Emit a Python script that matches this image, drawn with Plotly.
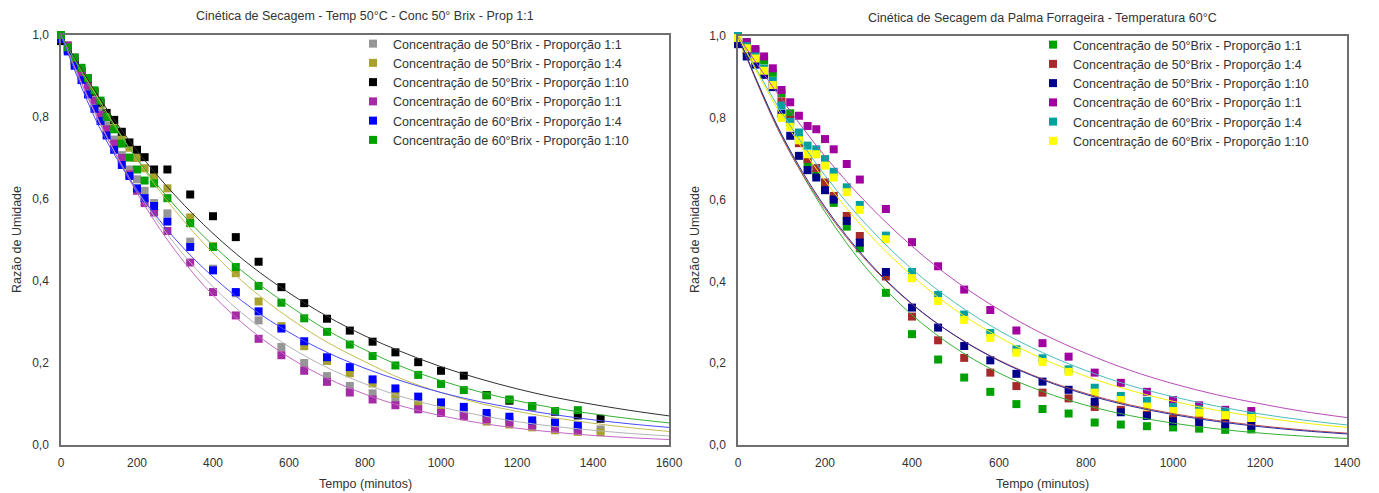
import plotly.graph_objects as go

# ---------------- data: left chart ----------------
TL = [0, 18, 36, 54, 71, 88, 104, 120, 140, 160, 180, 200, 220, 245, 280, 340, 400, 460, 520, 580,
      640, 700, 760, 820, 880, 940, 1000, 1060, 1120, 1180, 1240, 1300, 1360, 1420]
L_gray = [1.0, 0.965, 0.93, 0.9, 0.87, 0.84, 0.81, 0.78, 0.745, 0.707, 0.672, 0.648, 0.62, 0.59, 0.565,
          0.496, 0.43, 0.37, 0.304, 0.239, 0.2, 0.168, 0.144, 0.126, 0.11, 0.095, 0.09, 0.079, 0.068,
          0.06, 0.052, 0.046, 0.041, 0.038]
L_olive = [0.99, 0.965, 0.94, 0.915, 0.89, 0.86, 0.83, 0.8, 0.78, 0.752, 0.725, 0.7, 0.675, 0.655, 0.626,
           0.555, 0.485, 0.419, 0.35, 0.29, 0.241, 0.205, 0.175, 0.15, 0.125, 0.105, 0.085, 0.07, 0.057,
           0.05, 0.043, 0.036, 0.032, 0.031]
L_black = [0.985, 0.962, 0.937, 0.91, 0.886, 0.862, 0.835, 0.81, 0.793, 0.764, 0.738, 0.72, 0.702, 0.672,
           0.672, 0.611, 0.558, 0.507, 0.447, 0.385, 0.346, 0.308, 0.279, 0.252, 0.226, 0.202, 0.181,
           0.169, 0.122, 0.108, 0.094, 0.081, 0.072, 0.064]
L_purple = [1.0, 0.975, 0.945, 0.91, 0.875, 0.84, 0.805, 0.77, 0.735, 0.7, 0.66, 0.62, 0.59, 0.567, 0.522,
            0.445, 0.373, 0.316, 0.259, 0.219, 0.181, 0.154, 0.128, 0.111, 0.097, 0.087, 0.078, 0.071,
            0.063, 0.055, 0.048, 0.042, 0.036]
L_blue = [0.99, 0.96, 0.925, 0.89, 0.855, 0.82, 0.79, 0.755, 0.72, 0.683, 0.656, 0.626, 0.602, 0.583,
          0.545, 0.483, 0.426, 0.373, 0.326, 0.284, 0.253, 0.214, 0.19, 0.16, 0.138, 0.118, 0.104, 0.093,
          0.078, 0.069, 0.06, 0.055, 0.048]
L_green = [1.0, 0.97, 0.945, 0.92, 0.895, 0.865, 0.84, 0.8, 0.77, 0.735, 0.701, 0.672, 0.645, 0.638,
           0.602, 0.541, 0.483, 0.434, 0.388, 0.347, 0.309, 0.276, 0.245, 0.217, 0.194, 0.171, 0.149,
           0.134, 0.121, 0.111, 0.095, 0.083, 0.085]

TFL = [0, 100, 200, 300, 400, 500, 600, 700, 800, 900, 1000, 1100, 1200, 1300, 1400, 1500, 1600]
FL_gray = [1.0, 0.788, 0.621, 0.49, 0.386, 0.304, 0.24, 0.189, 0.149, 0.117, 0.0925, 0.073, 0.057, 0.045, 0.036, 0.028, 0.022]
FL_olive = [1.0, 0.842, 0.696, 0.572, 0.468, 0.381, 0.31, 0.251, 0.203, 0.16, 0.128, 0.102, 0.082, 0.066, 0.053, 0.042, 0.033]
FL_black = [1.0, 0.848, 0.718, 0.609, 0.516, 0.437, 0.371, 0.314, 0.266, 0.226, 0.191, 0.162, 0.137, 0.116, 0.099, 0.084, 0.071]
FL_purple = [1.0, 0.791, 0.615, 0.475, 0.365, 0.28, 0.214, 0.163, 0.124, 0.094, 0.0715, 0.054, 0.041, 0.031, 0.0234, 0.0177, 0.0133]
FL_blue = [1.0, 0.777, 0.622, 0.503, 0.41, 0.335, 0.275, 0.226, 0.187, 0.155, 0.128, 0.106, 0.0886, 0.0737, 0.0615, 0.0513, 0.0429]
FL_green = [1.0, 0.835, 0.698, 0.583, 0.487, 0.407, 0.34, 0.28, 0.232, 0.19, 0.157, 0.13, 0.108, 0.09, 0.076, 0.064, 0.054]

# ---------------- data: right chart ----------------
TR = [0, 20, 40, 60, 80, 100, 120, 140, 160, 180, 200, 220, 250, 280, 340, 400, 460, 520, 580, 640,
      700, 760, 820, 880, 940, 1000, 1060, 1120, 1180]
R_green = [1.0, 0.985, 0.965, 0.94, 0.91, 0.86, 0.811, 0.75, 0.689, 0.662, 0.628, 0.592, 0.534, 0.481,
           0.372, 0.271, 0.209, 0.165, 0.13, 0.1, 0.088, 0.077, 0.055, 0.05, 0.046, 0.043, 0.04, 0.037, 0.038]
R_red = [0.99, 0.965, 0.94, 0.91, 0.88, 0.84, 0.795, 0.738, 0.699, 0.677, 0.642, 0.609, 0.56, 0.511,
         0.412, 0.314, 0.256, 0.213, 0.177, 0.144, 0.128, 0.114, 0.093, 0.086, 0.074, 0.07, 0.069, 0.067, 0.064]
R_navy = [0.98, 0.95, 0.93, 0.905, 0.875, 0.81, 0.756, 0.707, 0.672, 0.654, 0.623, 0.6, 0.548, 0.495,
          0.423, 0.336, 0.287, 0.242, 0.207, 0.174, 0.155, 0.135, 0.106, 0.08, 0.071, 0.058, 0.055, 0.051, 0.047]
R_purple = [1.0, 0.985, 0.968, 0.95, 0.921, 0.868, 0.838, 0.805, 0.78, 0.772, 0.748, 0.723, 0.687, 0.649,
            0.577, 0.496, 0.437, 0.38, 0.33, 0.28, 0.249, 0.216, 0.177, 0.152, 0.13, 0.11, 0.097, 0.086, 0.083]
R_teal = [1.0, 0.975, 0.95, 0.92, 0.89, 0.83, 0.79, 0.764, 0.732, 0.723, 0.699, 0.668, 0.63, 0.587,
          0.512, 0.423, 0.367, 0.319, 0.274, 0.234, 0.212, 0.185, 0.14, 0.12, 0.108, 0.093, 0.087, 0.08, 0.072]
R_yellow = [0.995, 0.97, 0.945, 0.915, 0.88, 0.8, 0.778, 0.745, 0.711, 0.711, 0.683, 0.654, 0.618, 0.575,
            0.503, 0.408, 0.352, 0.306, 0.262, 0.226, 0.203, 0.179, 0.128, 0.11, 0.094, 0.083, 0.079, 0.073, 0.066]

TFR = [0, 100, 200, 300, 400, 500, 600, 700, 800, 900, 1000, 1100, 1200, 1300, 1400]
FR_green = [1.0, 0.758, 0.57, 0.426, 0.318, 0.237, 0.176, 0.131, 0.0972, 0.0721, 0.0534, 0.0395, 0.0292, 0.0216, 0.016]
FR_red = [1.0, 0.754, 0.5775, 0.445, 0.344, 0.267, 0.2074, 0.1615, 0.126, 0.0983, 0.0768, 0.0601, 0.0471, 0.0369, 0.029]
FR_navy = [1.0, 0.76, 0.582, 0.448, 0.345, 0.2666, 0.206, 0.1595, 0.1235, 0.0957, 0.0743, 0.0576, 0.0448, 0.0348, 0.027]
FR_purple = [1.0, 0.846, 0.706, 0.587, 0.486, 0.401, 0.331, 0.272, 0.224, 0.183, 0.15, 0.123, 0.101, 0.082, 0.067]
FR_teal = [1.0, 0.814, 0.659, 0.533, 0.43, 0.347, 0.28, 0.226, 0.182, 0.146, 0.118, 0.095, 0.076, 0.061, 0.049]
FR_yellow = [1.0, 0.805, 0.646, 0.517, 0.414, 0.33, 0.264, 0.211, 0.168, 0.134, 0.107, 0.085, 0.068, 0.054, 0.043]

LABELS = ["Concentração de 50°Brix - Proporção 1:1", "Concentração de 50°Brix - Proporção 1:4",
          "Concentração de 50°Brix - Proporção 1:10", "Concentração de 60°Brix - Proporção 1:1",
          "Concentração de 60°Brix - Proporção 1:4", "Concentração de 60°Brix - Proporção 1:10"]

left_pts = [L_gray, L_olive, L_black, L_purple, L_blue, L_green]
left_fit = [FL_gray, FL_olive, FL_black, FL_purple, FL_blue, FL_green]
left_mcol = ["#969696", "#a8a22c", "#000000", "#a52aa5", "#0000ff", "#00a000"]
left_lcol = ["#b4b4b4", "#c4bc50", "#303030", "#c466c4", "#4a4aff", "#33b033"]

right_pts = [R_green, R_red, R_navy, R_purple, R_teal, R_yellow]
right_fit = [FR_green, FR_red, FR_navy, FR_purple, FR_teal, FR_yellow]
right_mcol = ["#00a000", "#a52a2a", "#00008b", "#a000a0", "#00a0a0", "#ffff00"]
right_lcol = ["#33b033", "#b84a4a", "#2a2aa0", "#b84ab8", "#4cbcbc", "#f0f000"]

FONT = "Liberation Sans, Arial, sans-serif"
fig = go.Figure()

for vals, col, lab in zip(left_pts, left_mcol, LABELS):
    fig.add_trace(go.Scatter(x=TL[:len(vals)], y=vals, mode="markers", name=lab,
                             marker=dict(symbol="square", size=8, color=col),
                             xaxis="x", yaxis="y", legend="legend", cliponaxis=False))
for vals, col in zip(left_fit, left_lcol):
    fig.add_trace(go.Scatter(x=TFL, y=vals, mode="lines", line=dict(color=col, width=1, shape="spline"),
                             xaxis="x", yaxis="y", showlegend=False, hoverinfo="skip"))

for vals, col, lab in zip(right_pts, right_mcol, LABELS):
    fig.add_trace(go.Scatter(x=TR[:len(vals)], y=vals, mode="markers", name=lab,
                             marker=dict(symbol="square", size=8, color=col),
                             xaxis="x2", yaxis="y2", legend="legend2", cliponaxis=False))
for vals, col in zip(right_fit, right_lcol):
    fig.add_trace(go.Scatter(x=TFR, y=vals, mode="lines", line=dict(color=col, width=1, shape="spline"),
                             xaxis="x2", yaxis="y2", showlegend=False, hoverinfo="skip"))

W, H = 1379, 493
def px(x):
    return x / W
def py(y):
    return (H - y) / H

axis_common = dict(showgrid=False, zeroline=False, showline=True, mirror=True,
                   linecolor="#6e6e6e", linewidth=1.5, ticks="", automargin=False,
                   tickfont=dict(family=FONT, size=12, color="#333333"))

fig.update_layout(
    width=W, height=H, margin=dict(l=0, r=0, t=0, b=0, autoexpand=False),
    paper_bgcolor="white", plot_bgcolor="white",
    separators=",.",
    font=dict(family=FONT, size=12, color="#333333"),
    xaxis=dict(domain=[px(61), px(669)], range=[0, 1600], dtick=200, tickformat="d",
               anchor="y", ticklabelstandoff=6, **axis_common),
    yaxis=dict(domain=[py(445), py(35)], range=[0, 1], dtick=0.2, tickformat=".1f",
               anchor="x", ticklabelstandoff=8, **axis_common),
    xaxis2=dict(domain=[px(738), px(1347)], range=[0, 1400], dtick=200, tickformat="d",
                anchor="y2", ticklabelstandoff=6, **axis_common),
    yaxis2=dict(domain=[py(445), py(36)], range=[0, 1], dtick=0.2, tickformat=".1f",
                anchor="x2", ticklabelstandoff=8, **axis_common),
    legend=dict(x=px(353), y=py(29), xanchor="left", yanchor="top", bgcolor="rgba(0,0,0,0)",
                font=dict(family=FONT, size=12.5, color="#333333"), itemwidth=30),
    legend2=dict(x=px(1033), y=py(30), xanchor="left", yanchor="top", bgcolor="rgba(0,0,0,0)",
                 font=dict(family=FONT, size=12.5, color="#333333"), itemwidth=30),
    showlegend=True,
    annotations=[
        dict(text="Cinética de Secagem - Temp 50°C - Conc 50° Brix - Prop 1:1", x=px(365), y=py(16),
             xref="paper", yref="paper", showarrow=False, xanchor="center", yanchor="middle",
             font=dict(family=FONT, size=12.5, color="#333333")),
        dict(text="Cinética de Secagem da Palma Forrageira - Temperatura 60°C", x=px(1042), y=py(18),
             xref="paper", yref="paper", showarrow=False, xanchor="center", yanchor="middle",
             font=dict(family=FONT, size=12.5, color="#333333")),
        dict(text="Tempo (minutos)", x=px(365), y=py(484), xref="paper", yref="paper", showarrow=False,
             xanchor="center", yanchor="middle", font=dict(family=FONT, size=12.5, color="#333333")),
        dict(text="Tempo (minutos)", x=px(1042), y=py(484), xref="paper", yref="paper", showarrow=False,
             xanchor="center", yanchor="middle", font=dict(family=FONT, size=12.5, color="#333333")),
        dict(text="Razão de Umidade", x=px(17), y=py(240), xref="paper", yref="paper", showarrow=False,
             textangle=-90, xanchor="center", yanchor="middle",
             font=dict(family=FONT, size=12.5, color="#333333")),
        dict(text="Razão de Umidade", x=px(695), y=py(240), xref="paper", yref="paper", showarrow=False,
             textangle=-90, xanchor="center", yanchor="middle",
             font=dict(family=FONT, size=12.5, color="#333333")),
    ],
)

fig.write_html("out.html")
